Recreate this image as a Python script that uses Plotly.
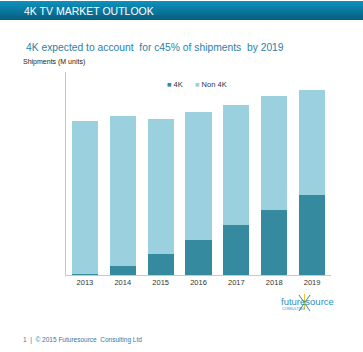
import plotly.graph_objects as go

years = ["2013", "2014", "2015", "2016", "2017", "2018", "2019"]
uhd_4k = [1.5, 13.5, 31, 52, 75, 98, 120]
non_4k = [229.5, 225, 202.5, 192, 180.5, 171, 158]

C4K = "#368a9f"
CNON = "#9bd0df"

W, H = 363, 352
L, R, T, B = 66, 32, 72, 77
PW, PH = W - L - R, H - T - B

def px(x):
    return (x - L) / PW

def py(y):
    return (H - B - y) / PH

fig = go.Figure()
fig.add_trace(go.Bar(x=years, y=uhd_4k, name="4K", marker=dict(color=C4K, line=dict(width=0))))
fig.add_trace(go.Bar(x=years, y=non_4k, name="Non 4K", marker=dict(color=CNON, line=dict(width=0))))

shapes = []
# header gradient
top_c = (12, 146, 190)
bot_c = (8, 96, 128)
n = 19
for i in range(n):
    t = i / (n - 1)
    c = tuple(int(top_c[k] + (bot_c[k] - top_c[k]) * t) for k in range(3))
    shapes.append(dict(type="rect", xref="paper", yref="paper",
                       x0=px(0), x1=px(W), y0=py(1 + i + 1), y1=py(1 + i),
                       fillcolor="rgb(%d,%d,%d)" % c, line=dict(width=0), layer="below"))
# logo star
shapes += [
    dict(type="line", xref="paper", yref="paper", x0=px(299), y0=py(295), x1=px(310), y1=py(311),
         line=dict(color="#3d7fb0", width=1)),
    dict(type="line", xref="paper", yref="paper", x0=px(310), y0=py(295), x1=px(299), y1=py(311),
         line=dict(color="#3d7fb0", width=1)),
    dict(type="line", xref="paper", yref="paper", x0=px(304.5), y0=py(294), x1=px(304.5), y1=py(309),
         line=dict(color="#f2c230", width=1)),
]

FONT = "Liberation Sans"
ann = [
    dict(text="4K TV MARKET OUTLOOK", x=px(22), y=py(11), xanchor="left", yanchor="middle",
         font=dict(size=10.5, color="white", family=FONT)),
    dict(text="4K expected to account  for c45% of shipments  by 2019", x=px(24), y=py(47),
         xanchor="left", yanchor="middle", font=dict(size=10.3, color="#2a7fa8", family=FONT)),
    dict(text="Shipments (M units)", x=px(21), y=py(62), xanchor="left", yanchor="middle",
         font=dict(size=7, color="#222222", family=FONT)),
    dict(text='<span style="color:%s">■</span> 4K' % C4K, x=px(165), y=py(84), xanchor="left",
         yanchor="middle", font=dict(size=7.5, color="#333333", family=FONT)),
    dict(text='<span style="color:%s">■</span> Non 4K' % CNON, x=px(193), y=py(84), xanchor="left",
         yanchor="middle", font=dict(size=7.5, color="#333333", family=FONT)),
    dict(text="futures<span style='color:#3d7fb0'>o</span>urce", x=px(279), y=py(301), xanchor="left",
         yanchor="middle", font=dict(size=9.5, color="#2c8fc4", family=FONT)),
    dict(text="CONSULTING", x=px(280), y=py(309), xanchor="left", yanchor="middle",
         font=dict(size=3.5, color="#2c8fc4", family=FONT)),
    dict(text="1  |  © 2015 Futuresource  Consulting Ltd", x=px(21), y=py(340), xanchor="left",
         yanchor="middle", font=dict(size=6.5, color="#2f7aa6", family=FONT)),
]
for a in ann:
    a.update(xref="paper", yref="paper", showarrow=False)

fig.update_layout(
    width=W, height=H, barmode="stack", bargap=0.31, showlegend=False,
    margin=dict(l=L, r=R, t=T, b=B, pad=0),
    paper_bgcolor="white", plot_bgcolor="white",
    xaxis=dict(type="category", showline=True, linecolor="#c8c8c8", linewidth=1,
               ticks="", tickfont=dict(size=7.5, color="#333333", family=FONT),
               showgrid=False, fixedrange=True),
    yaxis=dict(range=[0, 304.5], showline=True, linecolor="#c8c8c8", linewidth=1,
               showticklabels=False, ticks="", showgrid=False, zeroline=False, fixedrange=True),
    shapes=shapes, annotations=ann,
)
fig.write_html("out.html", config={"displayModeBar": False})
